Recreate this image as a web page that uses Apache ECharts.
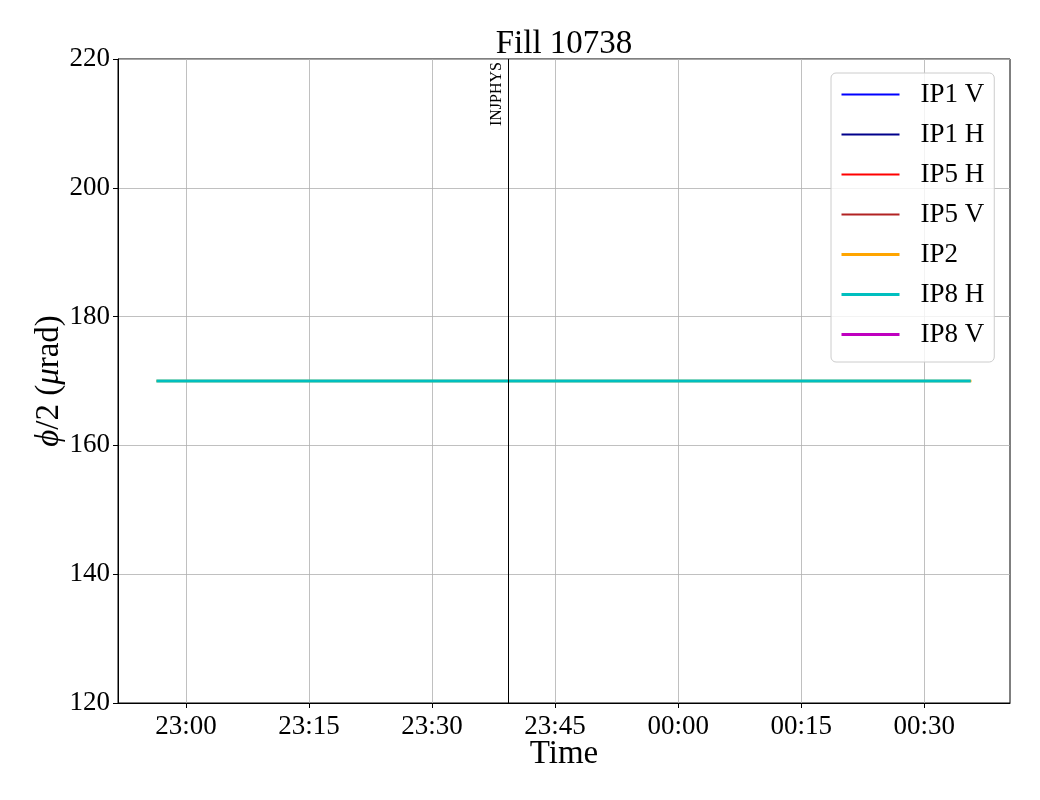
<!DOCTYPE html>
<html>
<head>
<meta charset="utf-8">
<script src="https://cdn.jsdelivr.net/npm/echarts@6/dist/echarts.min.js"></script>
<style>html,body{margin:0;padding:0;background:#fff;}#c{width:1040px;height:800px;}</style>
</head>
<body>
<div id="c"></div>
<script>
// ---- data ----
const titleText = 'Fill 10738';
const seriesNames = ['IP1 V', 'IP1 H', 'IP5 H', 'IP5 V', 'IP2', 'IP8 H', 'IP8 V'];
const seriesColors = ['#0000ff', '#00008b', '#ff0000', '#b22222', '#ffa500', '#00bfbf', '#bf00bf'];
const seriesWidths = [2, 2, 2, 2, 3, 3, 3];
const ip1vTimes = [], ip1vValues = [];
const ip1hTimes = [], ip1hValues = [];
const ip5hTimes = [], ip5hValues = [];
const ip5vTimes = [], ip5vValues = [];
const ip2Times = ['22:56:24', '00:35:45'];
const ip2Values = [170, 170];
const ip8hTimes = ['22:56:24', '00:35:40'];
const ip8hValues = [170, 170];
const ip8vTimes = [], ip8vValues = [];
const eventTime = '23:39:16';
const eventLabel = 'INJPHYS';
const xTickLabels = ['23:00', '23:15', '23:30', '23:45', '00:00', '00:15', '00:30'];
const xRange = ['22:51:43', '00:40:27'];
const yTicks = [120, 140, 160, 180, 200, 220];

// minutes since midnight of first day (times after midnight wrap)
function toMin(s) {
  const p = s.split(':').map(Number);
  let m = p[0] * 60 + p[1] + (p[2] || 0) / 60;
  if (p[0] < 12) m += 1440;
  return m;
}
function fmt(v) {
  let m = Math.round(v) % 1440;
  const h = Math.floor(m / 60), mm = m % 60;
  return String(h).padStart(2, '0') + ':' + String(mm).padStart(2, '0');
}
const allTimes = [ip1vTimes, ip1hTimes, ip5hTimes, ip5vTimes, ip2Times, ip8hTimes, ip8vTimes];
const allValues = [ip1vValues, ip1hValues, ip5hValues, ip5vValues, ip2Values, ip8hValues, ip8vValues];
const tickVals = xTickLabels.map(toMin);

const FONT = '"Liberation Serif", "DejaVu Serif", serif';

const series = seriesNames.map((name, i) => ({
  name: name,
  type: 'line',
  showSymbol: false,
  symbol: 'none',
  animation: false,
  color: seriesColors[i],
  lineStyle: { width: seriesWidths[i], color: seriesColors[i] },
  data: allTimes[i].map((t, j) => [toMin(t), allValues[i][j]])
}));
// orange drawn slightly thinner so the cyan fully covers it except at its end
series[4].lineStyle.width = 2.5;
series.push({
  name: '_event',
  type: 'line',
  data: [],
  silent: true,
  markLine: {
    symbol: 'none',
    animation: false,
    silent: true,
    lineStyle: { color: '#000', width: 1, type: 'solid' },
    label: {
      show: true,
      formatter: eventLabel,
      position: 'insideEndTop',
      distance: 3,
      color: '#000',
      fontFamily: FONT,
      fontSize: 16
    },
    data: [{ xAxis: toMin(eventTime) }]
  }
});

const chart = echarts.init(document.getElementById('c'), null, { renderer: 'canvas' });
chart.setOption({
  animation: false,
  backgroundColor: '#fff',
  title: {
    text: titleText,
    left: 559,
    top: 23,
    textAlign: 'center',
    textStyle: { fontFamily: FONT, fontSize: 33, fontWeight: 'normal', color: '#000' }
  },
  grid: {
    left: 118, right: 30, top: 59, bottom: 97,
    show: true, borderColor: '#000', borderWidth: 1, backgroundColor: 'transparent'
  },
  legend: {
    data: seriesNames.map((n, i) => ({
      name: n,
      lineStyle: { width: seriesWidths[i], color: seriesColors[i] }
    })),
    orient: 'vertical',
    left: 831,
    top: 73,
    itemWidth: 58,
    itemHeight: 14,
    itemGap: 13,
    padding: [8, 10, 14, 9],
    borderColor: '#cccccc',
    borderWidth: 1,
    borderRadius: 5,
    backgroundColor: 'rgba(255,255,255,0.8)',
    selectedMode: false,
    itemStyle: { opacity: 0 },
    textStyle: { fontFamily: FONT, fontSize: 27, color: '#000', padding: [0, 0, 0, 16] }
  },
  xAxis: {
    type: 'value',
    min: toMin(xRange[0]),
    max: toMin(xRange[1]),
    name: 'Time',
    nameLocation: 'middle',
    nameGap: 35,
    nameMoveOverlap: false,
    nameTextStyle: { fontFamily: FONT, fontSize: 33, color: '#000' },
    axisLine: { show: true, onZero: false, lineStyle: { color: '#000', width: 1 } },
    axisTick: { show: true, length: 5, lineStyle: { color: '#000' }, customValues: tickVals },
    axisLabel: {
      customValues: tickVals,
      formatter: (v) => fmt(v),
      margin: 10,
      fontFamily: FONT, fontSize: 27, color: '#000'
    },
    splitLine: { show: true, lineStyle: { color: '#b0b0b0', width: 0.8 } }
  },
  yAxis: {
    type: 'value',
    min: yTicks[0],
    max: yTicks[yTicks.length - 1],
    interval: yTicks[1] - yTicks[0],
    name: '{i|ϕ}/2 ({i|μ}rad)',
    nameLocation: 'middle',
    nameRotate: 90,
    nameGap: 52,
    nameMoveOverlap: false,
    nameTextStyle: {
      fontFamily: FONT, fontSize: 33, color: '#000',
      rich: { i: { fontFamily: FONT, fontSize: 33, fontStyle: 'italic', color: '#000' } }
    },
    axisLine: { show: true, onZero: false, lineStyle: { color: '#000', width: 1 } },
    axisTick: { show: true, length: 5, lineStyle: { color: '#000' } },
    axisLabel: { margin: 8, fontFamily: FONT, fontSize: 27, color: '#000' },
    splitLine: { show: true, lineStyle: { color: '#b0b0b0', width: 0.8 } }
  },
  series: series
});
</script>
</body>
</html>
